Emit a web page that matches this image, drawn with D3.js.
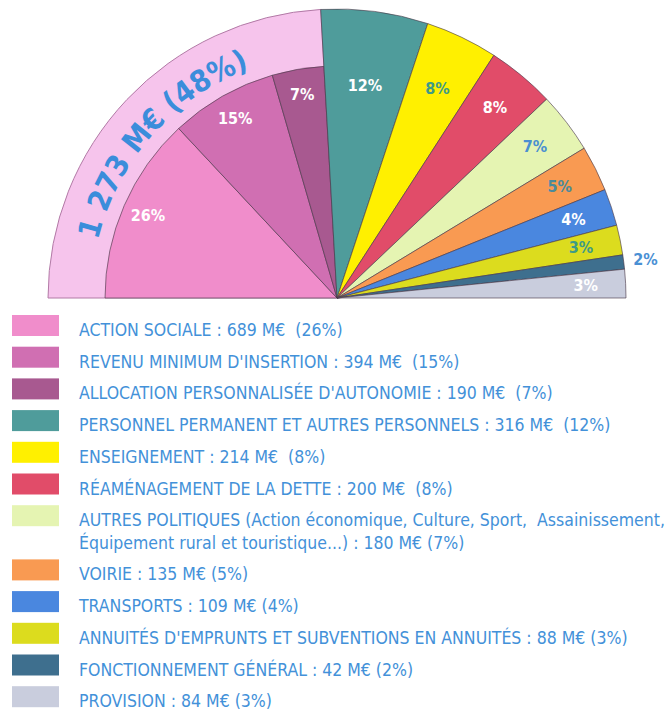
<!DOCTYPE html>
<html>
<head>
<meta charset="utf-8">
<script src="https://cdn.jsdelivr.net/npm/d3@7"></script>
<style>
  body { margin: 0; background: #fff; }
  text { font-family: "Liberation Sans Narrow", "DejaVu Sans Condensed", "Arial Narrow", sans-serif; }
</style>
</head>
<body>
<div id="chart"></div>
<script>
// data
const categories = [
  "ACTION SOCIALE",
  "REVENU MINIMUM D'INSERTION",
  "ALLOCATION PERSONNALISÉE D'AUTONOMIE",
  "PERSONNEL PERMANENT ET AUTRES PERSONNELS",
  "ENSEIGNEMENT",
  "RÉAMÉNAGEMENT DE LA DETTE",
  "AUTRES POLITIQUES (Action économique, Culture, Sport,  Assainissement,\nÉquipement rural et touristique...)",
  "VOIRIE",
  "TRANSPORTS",
  "ANNUITÉS D'EMPRUNTS ET SUBVENTIONS EN ANNUITÉS",
  "FONCTIONNEMENT GÉNÉRAL",
  "PROVISION"
];
const values = [689, 394, 190, 316, 214, 200, 180, 135, 109, 88, 42, 84];
const percents = [26, 15, 7, 12, 8, 8, 7, 5, 4, 3, 2, 3];
const colors = ["#f08dcb", "#d06fb2", "#a85990", "#4f9c9b", "#fff000", "#e14c69",
  "#e5f4b2", "#f99a52", "#4a87df", "#dcdc1e", "#3e6f8e", "#c9cddd"];
const labelColors = ["#fff", "#fff", "#fff", "#fff", "#3f9a86", "#fff",
  "#4a8fd0", "#4a8a9c", "#fff", "#3f9a86", "#4a90d4", "#fff"];
const groupLabel = "1 273 M€ (48%)";
const groupSize = 3; // first three slices form the social group

const W = 665, H = 713;
const cx = 337, cy = 298;
const R = 289, rInner = 232;

const svg = d3.select("#chart")
  .append("svg")
  .attr("width", W)
  .attr("height", H);

const g = svg.append("g")
  .attr("transform", `translate(${cx},${cy})`);

const data = categories.map((c, i) => ({
  name: c, value: values[i], pct: percents[i], color: colors[i], lc: labelColors[i], i: i
}));

const pie = d3.pie()
  .value(d => d.value)
  .sort(null)
  .startAngle(-Math.PI / 2)
  .endAngle(Math.PI / 2);

const arcs = pie(data);

// outer ring round the social group
const groupEnd = arcs[groupSize - 1].endAngle;
g.append("path")
  .attr("d", d3.arc()({ innerRadius: 0, outerRadius: R, startAngle: -Math.PI / 2, endAngle: groupEnd }))
  .attr("fill", "#f6c4ec")
  .attr("stroke", "#b27aa6")
  .attr("stroke-width", 1);

const arc = d3.arc()
  .innerRadius(0)
  .outerRadius(d => d.index < groupSize ? rInner : R);

g.selectAll(".slice")
  .data(arcs)
  .enter()
  .append("path")
  .attr("class", "slice")
  .attr("d", arc)
  .attr("fill", d => d.data.color)
  .attr("stroke", "#4a3a4a")
  .attr("stroke-width", 0.8)
  .attr("stroke-opacity", 0.8);

// label radius grows for the thin slices on the right
const labelR = d3.scaleLinear()
  .domain([0, 0.72])
  .range([206, 249])
  .clamp(true);

g.selectAll(".plabel")
  .data(arcs)
  .enter()
  .append("text")
  .attr("class", "plabel")
  .attr("transform", d => {
    const mid = (d.startAngle + d.endAngle) / 2;
    let r = labelR(mid);
    if (d.endAngle - d.startAngle < 0.06) r = R + 22;
    return `translate(${Math.sin(mid) * r},${-Math.cos(mid) * r})`;
  })
  .attr("text-anchor", "middle")
  .attr("dominant-baseline", "central")
  .attr("font-weight", "bold")
  .attr("font-size", "16px")
  .attr("fill", d => d.data.lc)
  .text(d => d.data.pct + "%");

// curved group label
const p = d3.path();
p.arc(0, 0, 246, Math.PI, 1.5 * Math.PI);
g.append("path")
  .attr("id", "ringpath")
  .attr("d", p.toString())
  .attr("fill", "none");

g.append("text")
  .attr("font-weight", "bold")
  .attr("font-size", "30px")
  .attr("fill", "#3b8ddb")
  .append("textPath")
  .attr("href", "#ringpath")
  .attr("startOffset", "46%")
  .attr("text-anchor", "middle")
  .text(groupLabel);

// legend
const legend = svg.append("g")
  .attr("transform", "translate(12,315)");

const rowStep = 31.7, lineStep = 22.5;
let yPos = 0;
data.forEach((d, i) => {
  const lines = d.name.split("\n");
  const sep = i < 6 ? "  " : " ";
  lines[lines.length - 1] += ` : ${d.value} M€${sep}(${d.pct}%)`;

  legend.append("rect")
    .attr("x", 0)
    .attr("y", yPos)
    .attr("width", 47)
    .attr("height", 21)
    .attr("fill", d.color);

  const t = legend.append("text")
    .attr("x", 67)
    .attr("y", yPos + 21)
    .attr("font-size", "17.5px")
    .attr("fill", "#4391d9")
    .style("white-space", "pre");

  lines.forEach((ln, k) => {
    t.append("tspan")
      .attr("x", 67)
      .attr("dy", k === 0 ? 0 : lineStep)
      .text(ln);
  });

  yPos += rowStep + (lines.length - 1) * lineStep;
});
</script>
</body>
</html>
